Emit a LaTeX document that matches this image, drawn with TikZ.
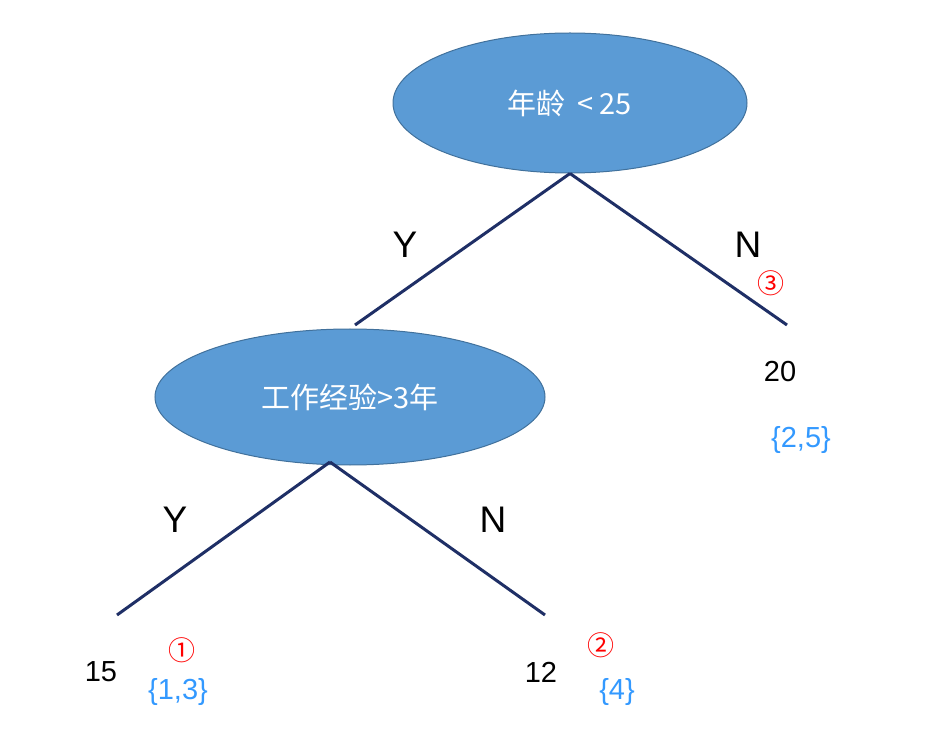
\documentclass[tikz,border=0pt]{standalone}
\usepackage{fontspec}
\setmainfont{Liberation Sans}
\newfontfamily\cjk{Noto Sans CJK SC}
\usetikzlibrary{shapes.geometric}
\definecolor{fillb}{HTML}{5B9BD5}
\definecolor{edgeb}{HTML}{41719C}
\definecolor{navy}{HTML}{1F2F66}
\definecolor{lblue}{HTML}{3399FF}
\tikzset{
 dec/.style={ellipse,fill=fillb,draw=edgeb,line width=1pt,minimum width=#1,text=white,font=\cjk\fontsize{29}{34}\selectfont},
 br/.style={navy,line width=3pt},
 yn/.style={font=\fontsize{37}{42}\selectfont},
 val/.style={font=\fontsize{29}{34}\selectfont},
 set/.style={text=lblue,font=\fontsize{29}{34}\selectfont},
 circ/.style={text=red,font=\cjk\fontsize{27}{32}\selectfont}
}
\begin{document}
\begin{tikzpicture}[x=1pt,y=-1pt]
\useasboundingbox (0,0) rectangle (938,730);
\node[dec=354pt,minimum height=140pt] (a) at (570,103) {年龄 \,< 25};
\node[dec=390pt,minimum height=136pt] (b) at (350,397) {工作经验>3年};
\coordinate (bt) at (355,325);
\coordinate (bb) at (330,462);
\coordinate (r) at (787,325);
\coordinate (l1) at (117,615);
\coordinate (l2) at (545,615);
\draw[br] (a.south) -- (bt);
\draw[br] (a.south) -- (r);
\draw[br] (bb) -- (l1);
\draw[br] (bb) -- (l2);
\node[yn] (y1) at (405,245) {Y};
\node[yn] (n1) at (748,245) {N};
\node[circ] (c3) at (771,283) {③};
\node[val] (v20) at (780,372) {20};
\node[set] (s25) at (801,440) {\{2,5\}};
\node[yn] (y2) at (175,520) {Y};
\node[yn] (n2) at (493,520) {N};
\node[val] (v15) at (101,672) {15};
\node[circ] (c1) at (182,650) {①};
\node[set] (s13) at (178,692) {\{1,3\}};
\node[val] (v12) at (541,672) {12};
\node[circ] (c2) at (601,645) {②};
\node[set] (s4) at (617,692) {\{4\}};
\end{tikzpicture}
\end{document}
